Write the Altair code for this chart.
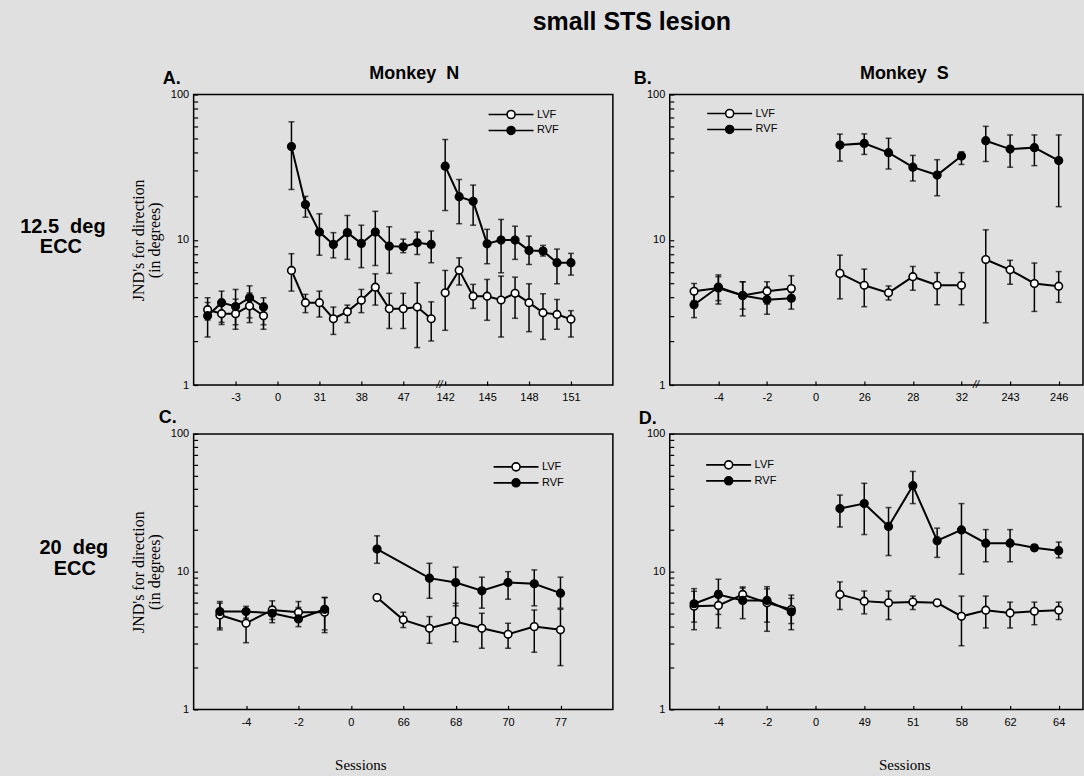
import json
import altair as alt
import pandas as pd

BG = "#e0e0e0"
SANS = "Liberation Sans"
SERIF = "Liberation Serif"
NB = "\u00a0"

# ---------------- Panel A : Monkey N, 12.5 deg ----------------
a_slots = [-5, -4, -3, -2, -1, 1, 2, 3, 4, 5, 6, 7, 8, 9, 10, 11, 12, 13, 14, 15, 16, 17, 18, 19, 20, 21]
a_grps = [1] * 5 + [2] * 11 + [3] * 10
a_lvf = [3.3, 3.1, 3.1, 3.5, 3.0, 6.15, 3.69, 3.69, 2.86, 3.2, 3.83, 4.72, 3.35, 3.35, 3.44, 2.86,
         4.31, 6.18, 4.09, 4.09, 3.85, 4.28, 3.69, 3.15, 3.06, 2.84]
a_lvf_lo = [2.8, 2.7, 2.6, 2.9, 2.6, 4.43, 3.15, 2.94, 2.23, 2.69, 3.15, 3.55, 2.45, 2.45, 1.81, 2.01,
            2.38, 4.88, 3.37, 2.79, 2.14, 2.88, 2.33, 2.06, 2.42, 2.14]
a_lvf_hi = [3.7, 3.6, 3.9, 4.3, 3.5, 8.02, 4.21, 4.43, 3.44, 3.55, 4.55, 5.83, 4.28, 4.28, 5.06, 3.74,
            6.15, 7.51, 4.93, 5.33, 5.62, 5.53, 4.98, 4.25, 3.88, 3.25]
a_rvf = [3.0, 3.69, 3.47, 3.99, 3.45, 43.8, 17.5, 11.3, 9.29, 11.2, 9.44, 11.3, 9.04, 8.95, 9.53, 9.29,
         32.1, 19.8, 18.4, 9.38, 9.95, 9.95, 8.45, 8.37, 6.95, 6.95]
a_rvf_lo = [2.14, 2.61, 2.42, 2.69, 2.42, 22.2, 14.3, 7.83, 7.51, 7.33, 6.43, 6.65, 5.87, 8.15, 7.92, 6.95,
            15.9, 12.9, 12.6, 6.84, 5.93, 7.33, 6.76, 7.73, 4.98, 5.71]
a_rvf_hi = [3.99, 4.43, 4.55, 4.82, 3.99, 64.9, 19.9, 15.1, 11.2, 14.7, 12.6, 15.7, 12.3, 10.1, 11.3, 11.5,
            49.0, 26.0, 23.8, 11.8, 13.8, 12.4, 10.6, 9.15, 8.63, 8.06]
a_tick_pos = [-3, 0, 3, 6, 9, 12, 15, 18, 21]
a_tick_lab = ["-3", "0", "31", "38", "47", "142", "145", "148", "151"]
a_breaks = [11.6]

# ---------------- Panel B : Monkey S, 12.5 deg ----------------
b_slots = [-5, -4, -3, -2, -1, 1, 2, 3, 4, 5, 6, 7, 8, 9, 10]
b_grps = [1] * 5 + [2] * 6 + [3] * 4
b_lvf = [4.42, 4.66, 4.13, 4.42, 4.61, 5.87, 4.86, 4.31, 5.57, 4.86, 4.86, 7.31, 6.21, 5.0, 4.79]
b_lvf_lo = [3.81, 3.81, 3.33, 3.61, 3.81, 3.92, 3.46, 3.85, 4.49, 3.57, 3.57, 2.68, 4.94, 3.21, 3.71]
b_lvf_hi = [5.0, 5.73, 5.14, 5.14, 5.66, 7.84, 6.28, 4.81, 6.55, 5.94, 5.94, 11.7, 7.22, 6.92, 6.04]
b_rvf = [3.57, 4.73, 4.13, 3.87, 3.96, 44.9, 46.1, 39.8, 31.6, 27.9, 37.7, 48.1, 42.1, 43.1, 35.1]
b_rvf_lo = [2.91, 3.61, 2.99, 3.07, 3.33, 34.8, 38.7, 30.7, 25.4, 20.1, 33.0, 34.6, 31.6, 32.4, 16.9]
b_rvf_hi = [4.36, 5.57, 5.14, 4.73, 4.36, 53.4, 53.6, 50.0, 38.1, 35.6, 40.3, 60.4, 52.7, 52.7, 52.7]
b_tick_pos = [-4, -2, 0, 2, 4, 6, 8, 10]
b_tick_lab = ["-4", "-2", "0", "26", "28", "32", "243", "246"]
b_breaks = [6.6]

# ---------------- Panel C : Monkey N, 20 deg ----------------
c_lvf_slots = [-5, -4, -3, -2, -1, 1, 2, 3, 4, 5, 6, 7, 8]
c_lvf_grps = [1] * 5 + [2] * 8
c_lvf = [4.85, 4.22, 5.27, 5.07, 5.07, 6.49, 4.47, 3.88, 4.35, 3.88, 3.51, 3.99, 3.78]
c_lvf_lo = [3.9, 3.05, 4.5, 4.6, 3.61, 6.3, 3.93, 3.02, 3.10, 2.78, 2.78, 2.60, 2.08]
c_lvf_hi = [5.9, 5.13, 5.6, 5.5, 6.49, 6.7, 5.07, 4.72, 5.90, 4.99, 4.22, 5.27, 5.33]
c_rvf_slots = [-5, -4, -3, -2, -1, 1, 3, 4, 5, 6, 7, 8]
c_rvf_grps = [1] * 5 + [2] * 7
c_rvf = [5.13, 5.13, 4.99, 4.54, 5.33, 14.6, 8.97, 8.34, 7.26, 8.34, 8.17, 6.98]
c_rvf_lo = [3.78, 4.6, 4.26, 3.99, 3.78, 11.5, 6.41, 5.65, 5.43, 6.31, 5.65, 5.43]
c_rvf_hi = [6.07, 5.6, 6.14, 6.07, 6.49, 18.2, 11.5, 10.8, 9.12, 10.0, 10.3, 9.12]
c_tick_pos = [-4, -2, 0, 2, 4, 6, 8]
c_tick_lab = ["-4", "-2", "0", "66", "68", "70", "77"]
c_breaks = []

# ---------------- Panel D : Monkey S, 20 deg ----------------
d_slots = [-5, -4, -3, -2, -1, 1, 2, 3, 4, 5, 6, 7, 8, 9, 10]
d_grps = [1] * 5 + [2] * 10
d_lvf = [5.62, 5.69, 6.83, 5.94, 5.31, 6.84, 6.11, 5.94, 6.01, 5.94, 4.74, 5.25, 5.02, 5.16, 5.25]
d_lvf_lo = [4.3, 3.90, 6.0, 4.3, 4.2, 5.31, 4.94, 4.49, 5.31, 5.94, 2.90, 3.90, 3.90, 4.12, 4.49]
d_lvf_hi = [7.2, 7.24, 7.6, 7.5, 6.4, 8.43, 7.24, 7.24, 6.65, 5.94, 6.65, 6.65, 6.01, 6.01, 6.01]
d_rvf = [5.85, 6.83, 6.18, 6.18, 5.11, 28.7, 31.2, 21.3, 42.1, 16.8, 20.1, 16.1, 16.1, 14.9, 14.2]
d_rvf_lo = [3.79, 4.89, 4.56, 3.69, 3.79, 21.1, 18.6, 13.1, 31.2, 12.7, 9.6, 11.8, 11.8, 14.2, 12.6]
d_rvf_hi = [7.53, 8.81, 7.75, 7.78, 6.76, 36.0, 43.8, 29.2, 53.4, 20.7, 31.2, 20.2, 20.2, 15.6, 16.4]
d_tick_pos = [-4, -2, 0, 2, 4, 6, 8, 10]
d_tick_lab = ["-4", "-2", "0", "49", "51", "58", "62", "64"]
d_breaks = []

y_tick_values = [1, 2, 3, 4, 5, 6, 7, 8, 9, 10, 20, 30, 40, 50, 60, 70, 80, 90, 100]
series_names = ["LVF", "RVF"]
series_fill = ["white", "black"]

# legend symbol: a line with a circle in the middle; symbolSize 144 -> 1 unit = 6 px
R = 0.667
L = 3.75
LEGEND_PATH = (f"M{-L},0L{-R},0M{R},0L{L},0M{R},0A{R},{R},0,1,1,{-R},0A{R},{R},0,1,1,{R},0Z")


def series_df(slots, grps, mean, lo, hi, name):
    return pd.DataFrame({
        "slot": slots,
        "seg": [f"{name}{g}" for g in grps],
        "series": name,
        "mean": mean,
        "lo": lo,
        "hi": hi,
    })


def txt(s, x, y, size, weight="bold", align="left", font=SANS):
    return alt.Chart(alt.Data(values=[{"t": s}])).mark_text(
        align=align, baseline="alphabetic", fontSize=size, fontWeight=weight,
        font=font, color="black"
    ).encode(x=alt.value(x), y=alt.value(y), text="t:N")


def panel(df, xdom, w, h, tpos, tlab, breaks, lx, ly, ytitle, xtitle, texts, extra=None):
    xs = alt.Scale(domain=xdom, nice=False, zero=False)
    ys = alt.Scale(type="log", domain=[1, 100], nice=False)
    label_expr = f"{json.dumps(tlab)}[indexof({json.dumps(tpos)}, datum.value)]"
    xargs = dict(values=tpos, labelExpr=label_expr, domain=False, grid=False, offset=-4,
                 tickSize=4, tickWidth=1.2, tickColor="black", labelFont=SANS,
                 labelFontSize=11, labelColor="black", labelPadding=7, labelFlush=False,
                 labelOverlap=False)
    if xtitle is not None:
        xargs.update(title=xtitle[0], titleFont=SERIF, titleFontSize=15, titleFontWeight="normal",
                     titleColor="black", titleX=xtitle[1], titleY=xtitle[2],
                     titleBaseline="alphabetic", titleAlign="center", titleAnchor="start")
    else:
        xargs.update(title=None)
    yargs = dict(values=y_tick_values,
                 labelExpr="datum.value == 1 || datum.value == 10 || datum.value == 100 ? datum.label : ''",
                 domain=False, grid=False, offset=-4, tickSize=4, tickWidth=1.2, tickColor="black",
                 labelFont=SANS, labelFontSize=11, labelColor="black", labelPadding=5,
                 labelFlush=False, labelOverlap=False)
    if ytitle:
        yargs.update(title=["JND's for direction", "(in degrees)"], titleFont=SERIF, titleFontSize=16,
                     titleFontWeight="normal", titleColor="black", titlePadding=8, titleLineHeight=16)
    else:
        yargs.update(title=None)

    base = alt.Chart(df)
    x = alt.X("slot:Q", scale=xs, axis=alt.Axis(**xargs))
    err = base.mark_rule(color="black", strokeWidth=1.5).encode(
        x=x, y=alt.Y("lo:Q", scale=ys, axis=alt.Axis(**yargs)), y2="hi:Q")
    cap_lo = base.mark_tick(color="black", thickness=1.5, size=6, orient="horizontal").encode(
        x="slot:Q", y="lo:Q")
    cap_hi = base.mark_tick(color="black", thickness=1.5, size=6, orient="horizontal").encode(
        x="slot:Q", y="hi:Q")
    line = base.mark_line(color="black", strokeWidth=2).encode(
        x="slot:Q", y="mean:Q", detail="seg:N")
    pts = base.mark_point(filled=True, size=58, stroke="black", strokeWidth=1.6, opacity=1).encode(
        x="slot:Q", y="mean:Q",
        fill=alt.Fill("series:N", scale=alt.Scale(domain=series_names, range=series_fill),
                      legend=alt.Legend(orient="none", legendX=lx, legendY=ly, title=None,
                                        symbolType=LEGEND_PATH, symbolSize=144,
                                        symbolStrokeColor="black", symbolStrokeWidth=1.6,
                                        labelFont=SANS, labelFontSize=11, labelColor="black",
                                        labelOffset=19, rowPadding=0, padding=0)))
    layers = [err, cap_lo, cap_hi, line, pts]
    if breaks:
        bdf = pd.DataFrame({"slot": breaks, "y": [1] * len(breaks)})
        layers.append(alt.Chart(bdf).mark_text(text="//", fontSize=11, font=SANS, color="black",
                                               fontStyle="italic").encode(x="slot:Q", y="y:Q"))
    layers += [txt(*t) for t in texts]
    if extra is not None:
        layers.append(extra)
    return alt.layer(*layers).properties(width=w, height=h)


dfA = pd.concat([series_df(a_slots, a_grps, a_lvf, a_lvf_lo, a_lvf_hi, "LVF"),
                 series_df(a_slots, a_grps, a_rvf, a_rvf_lo, a_rvf_hi, "RVF")])
dfB = pd.concat([series_df(b_slots, b_grps, b_lvf, b_lvf_lo, b_lvf_hi, "LVF"),
                 series_df(b_slots, b_grps, b_rvf, b_rvf_lo, b_rvf_hi, "RVF")])
dfC = pd.concat([series_df(c_lvf_slots, c_lvf_grps, c_lvf, c_lvf_lo, c_lvf_hi, "LVF"),
                 series_df(c_rvf_slots, c_rvf_grps, c_rvf, c_rvf_lo, c_rvf_hi, "RVF")])
dfD = pd.concat([series_df(d_slots, d_grps, d_lvf, d_lvf_lo, d_lvf_hi, "LVF"),
                 series_df(d_slots, d_grps, d_rvf, d_rvf_lo, d_rvf_hi, "RVF")])

LW, RW = 420, 414
TH, BH = 291, 276
OX, OY = 193, 93
HSP = 57
VSP = 433 - OY - TH

# invisible frame that pins the page extent (1084 x 776) to panel A's origin
frame = alt.Chart(alt.Data(values=[{"k": 1}])).mark_rect(opacity=0).encode(
    x=alt.value(-OX), x2=alt.value(1084 - OX), y=alt.value(-OY), y2=alt.value(776 - OY))

A = panel(dfA, [-6, 24], LW, TH, a_tick_pos, a_tick_lab, a_breaks, 311, 13, True, None,
          [("small STS lesion", 439, -65, 25, "bold", "center"),
           (f"Monkey{NB}{NB}N", 221, -16, 18, "bold", "center"),
           ("A.", -31, -11, 18, "bold", "left"),
           (f"12.5{NB}{NB}deg", -131, 139, 20, "bold", "center"),
           ("ECC", -133, 159, 20, "bold", "center")], extra=frame)
B = panel(dfB, [-6, 11], RW, TH, b_tick_pos, b_tick_lab, b_breaks, 53, 12, False, None,
          [(f"Monkey{NB}{NB}S", 235, -16, 18, "bold", "center"),
           ("B.", -36, -11, 18, "bold", "left")])
C = panel(dfC, [-6, 10], LW, BH, c_tick_pos, c_tick_lab, c_breaks, 316, 26, True,
          ("Sessions", 167, 64),
          [("C.", -35, -11, 18, "bold", "left"),
           (f"20{NB}{NB}deg", -120, 120, 20, "bold", "center"),
           ("ECC", -119, 141, 20, "bold", "center")])
D = panel(dfD, [-6, 11], RW, BH, d_tick_pos, d_tick_lab, d_breaks, 52, 24, False,
          ("Sessions", 235, 64),
          [("D.", -31, -10, 18, "bold", "left")])

chart = (
    alt.concat(A, B, C, D, columns=2, spacing={"row": VSP, "column": HSP}, bounds="flush")
    .resolve_scale(fill="independent")
    .resolve_legend(fill="independent")
    .properties(padding=0)
    .configure(background=BG)
    .configure_view(stroke="black", strokeWidth=1.5)
)

chart.save("out.html", embed_options={"renderer": "svg", "actions": False})
